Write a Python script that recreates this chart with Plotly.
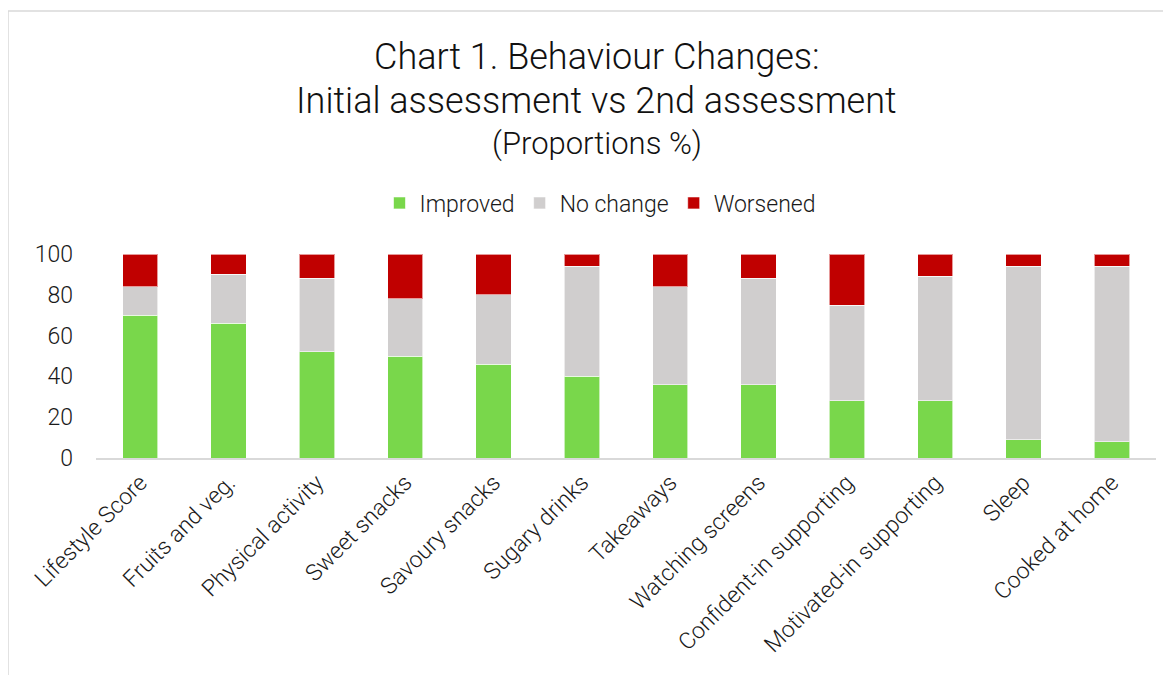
import plotly.graph_objects as go

categories = ["Lifestyle Score", "Fruits and veg.", "Physical activity", "Sweet snacks",
              "Savoury snacks", "Sugary drinks", "Takeaways", "Watching screens",
              "Confident-in supporting", "Motivated-in supporting", "Sleep", "Cooked at home"]
improved = [70, 66, 52, 50, 46, 40, 36, 36, 28, 28, 9, 8]
no_change = [14, 24, 36, 28, 34, 54, 48, 52, 47, 61, 85, 86]
worsened = [16, 10, 12, 22, 20, 6, 16, 12, 25, 11, 6, 6]
y_ticks = [0, 20, 40, 60, 80, 100]

FONT = "Roboto"
TXT = "#1a1a1a"

# plot area in screen px (page has 8px body offset)
L, R, T, B = 88, 23, 246, 225
PH = 675 - T - B


def py(screen_y):
    # convert screen y to paper y
    return (675 - B + 8 - screen_y) / PH


fig = go.Figure()
for name, vals, col in [("Improved", improved, "#79D74B"),
                        ("No change", no_change, "#D0CECE"),
                        ("Worsened", worsened, "#C00000")]:
    fig.add_trace(go.Bar(x=categories, y=vals, name=name, marker_color=col,
                         marker_line=dict(color="rgba(255,255,255,0.6)", width=1)))

fig.update_layout(
    barmode="stack", bargap=0.6,
    width=1171, height=675,
    margin=dict(l=L, r=R, t=T, b=B),
    paper_bgcolor="white", plot_bgcolor="white",
    font=dict(family=FONT, color=TXT, size=23, weight=300),
    showlegend=True,
    legend=dict(orientation="h", x=(600 - 8 - L) / (1171 - L - R), xanchor="center",
                y=py(203), yanchor="middle",
                font=dict(size=23, family=FONT, weight=300), traceorder="normal",
                itemwidth=30),
    xaxis=dict(showgrid=False, showline=True, linecolor="#D9D9D9", linewidth=2,
               tickangle=-45, ticks="", tickfont=dict(size=23, family=FONT, weight=300)),
    yaxis=dict(range=[0, 100], tickvals=y_ticks, showgrid=False, zeroline=False,
               showline=False, ticks="", ticklabelstandoff=22,
               tickfont=dict(size=23, family=FONT, weight=300)),
    shapes=[dict(type="rect", xref="paper", yref="paper",
                 x0=-L / (1171 - L - R), x1=1.05, y0=-1.2, y1=py(11),
                 line=dict(color="#D9D9D9", width=1.5), fillcolor="rgba(0,0,0,0)",
                 layer="below")],
    annotations=[
        dict(text="Chart 1. Behaviour Changes:", x=(597 - 8 - L) / (1171 - L - R), y=py(57),
             xref="paper", yref="paper", showarrow=False, yanchor="middle",
             font=dict(size=36, family=FONT, weight=300, color="#111111")),
        dict(text="Initial assessment vs 2nd assessment", x=(596 - 8 - L) / (1171 - L - R),
             y=py(101), xref="paper", yref="paper", showarrow=False, yanchor="middle",
             font=dict(size=36, family=FONT, weight=300, color="#111111")),
        dict(text="(Proportions %)", x=(597 - 8 - L) / (1171 - L - R), y=py(143),
             xref="paper", yref="paper", showarrow=False, yanchor="middle",
             font=dict(size=31, family=FONT, weight=300, color="#111111")),
    ],
)

fig.write_html("out.html")
